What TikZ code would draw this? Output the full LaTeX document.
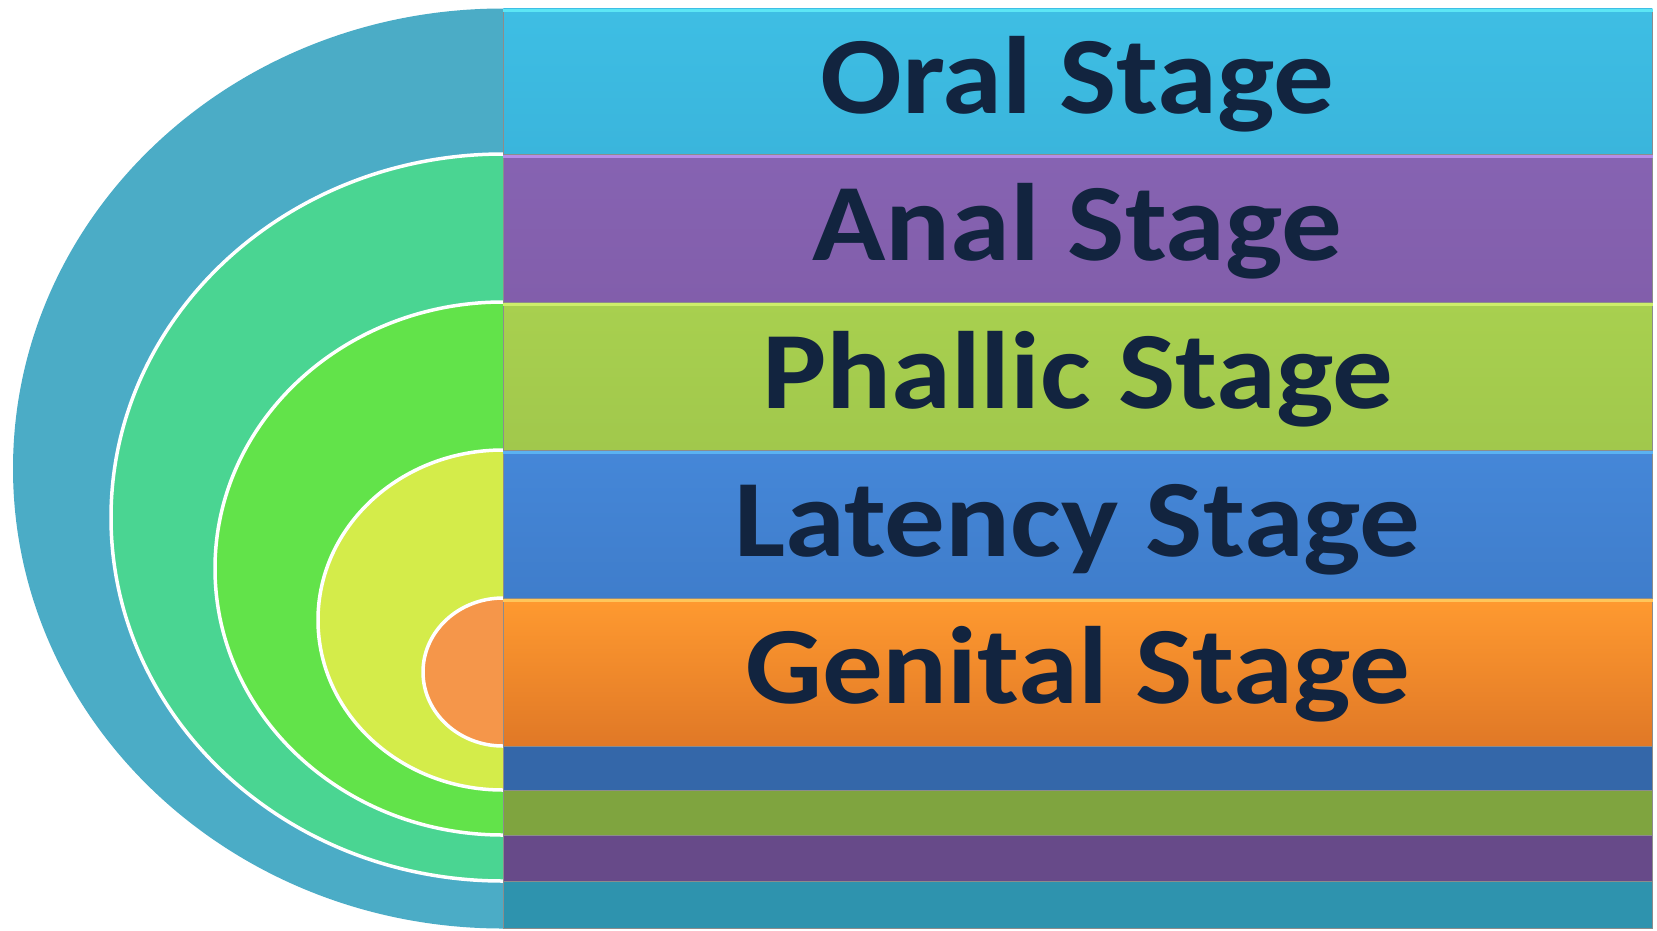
\documentclass[tikz,border=0pt]{standalone}
\usepackage{fontspec}
\setmainfont{Carlito}
\newfontfamily\stagefont[FakeStretch=1.1]{Carlito}

\definecolor{stageink}{HTML}{12243F}
\definecolor{ringteal}{HTML}{4BACC6}
\definecolor{ringmint}{HTML}{4AD592}
\definecolor{ringgreen}{HTML}{62E34A}
\definecolor{ringlime}{HTML}{D4EC4A}
\definecolor{ringorange}{HTML}{F5964A}
\definecolor{oraltop}{HTML}{3EBEE4}
\definecolor{oralbot}{HTML}{3AB5DC}
\definecolor{oralhi}{HTML}{5CE6F5}
\definecolor{analtop}{HTML}{8663B2}
\definecolor{analbot}{HTML}{825EAB}
\definecolor{analhi}{HTML}{B58DE8}
\definecolor{phallictop}{HTML}{A8D04F}
\definecolor{phallicbot}{HTML}{A1C84C}
\definecolor{phallichi}{HTML}{CDEE6A}
\definecolor{latencytop}{HTML}{4587D8}
\definecolor{latencybot}{HTML}{3F7DCB}
\definecolor{latencyhi}{HTML}{5BB2F2}
\definecolor{genitaltop}{HTML}{FF9A30}
\definecolor{genitalbot}{HTML}{E07826}
\definecolor{genitalhi}{HTML}{FFC65A}
\definecolor{latencyrimc}{HTML}{3467A9}
\definecolor{phallicrimc}{HTML}{7FA43F}
\definecolor{analrimc}{HTML}{674A89}
\definecolor{oralrimc}{HTML}{2E93AE}

\begin{document}
\begin{tikzpicture}[x=1pt,y=-1pt,
  stagebar/.style={rectangle,anchor=north west,draw=black!45,line width=0.8pt,
    minimum width=1149pt,inner sep=0pt},
  stagetext/.style={anchor=base,text=stageink,inner sep=0pt,
    font=\stagefont\fontsize{110}{114}\selectfont\bfseries},
  ring/.style={draw=white,line width=3.5pt}]
  \useasboundingbox[fill=white] (0,0) rectangle (1657,930);

  % nested half rings, the bars cover their right halves
  \fill[ringteal] (503,468.5) ellipse[x radius=490,y radius=460];
  \filldraw[ring,fill=ringmint] (503,517.5) ellipse[x radius=392,y radius=363.5];
  \filldraw[ring,fill=ringgreen] (503,568.5) ellipse[x radius=288,y radius=266.5];
  \filldraw[ring,fill=ringlime] (503,620) ellipse[x radius=185,y radius=170];
  \filldraw[ring,fill=ringorange] (503,672) ellipse[x radius=80,y radius=74];

  % stage bars
  \node[stagebar,minimum height=145.5pt,top color=oraltop,bottom color=oralbot]
    (oral) at (503,8.5) {};
  \node[stagebar,minimum height=148pt,top color=analtop,bottom color=analbot]
    (anal) at (503,154) {};
  \node[stagebar,minimum height=148pt,top color=phallictop,bottom color=phallicbot]
    (phallic) at (503,302) {};
  \node[stagebar,minimum height=148pt,top color=latencytop,bottom color=latencybot]
    (latency) at (503,450) {};
  \node[stagebar,minimum height=148pt,top color=genitaltop,bottom color=genitalbot]
    (genital) at (503,598) {};
  \draw[oralhi,line width=3pt] ([yshift=-2pt]oral.north west) -- ([yshift=-2pt]oral.north east);
  \draw[analhi,line width=3pt] ([yshift=-2pt]anal.north west) -- ([yshift=-2pt]anal.north east);
  \draw[phallichi,line width=3pt] ([yshift=-2pt]phallic.north west) -- ([yshift=-2pt]phallic.north east);
  \draw[latencyhi,line width=3pt] ([yshift=-2pt]latency.north west) -- ([yshift=-2pt]latency.north east);
  \draw[genitalhi,line width=3pt] ([yshift=-2pt]genital.north west) -- ([yshift=-2pt]genital.north east);

  % thin bars under the stages
  \node[stagebar,minimum height=44pt,fill=latencyrimc] (latencyrim) at (503,746) {};
  \node[stagebar,minimum height=45pt,fill=phallicrimc] (phallicrim) at (503,790) {};
  \node[stagebar,minimum height=46pt,fill=analrimc] (analrim) at (503,835) {};
  \node[stagebar,minimum height=47pt,fill=oralrimc] (oralrim) at (503,881) {};

  \node[stagetext] (oraltext) at (1077.5,113) {Oral Stage};
  \node[stagetext] (analtext) at (1077.5,260) {Anal Stage};
  \node[stagetext] (phallictext) at (1077.5,408) {Phallic Stage};
  \node[stagetext] (latencytext) at (1077.5,556) {Latency Stage};
  \node[stagetext] (genitaltext) at (1077.5,703) {Genital Stage};
\end{tikzpicture}
\end{document}
